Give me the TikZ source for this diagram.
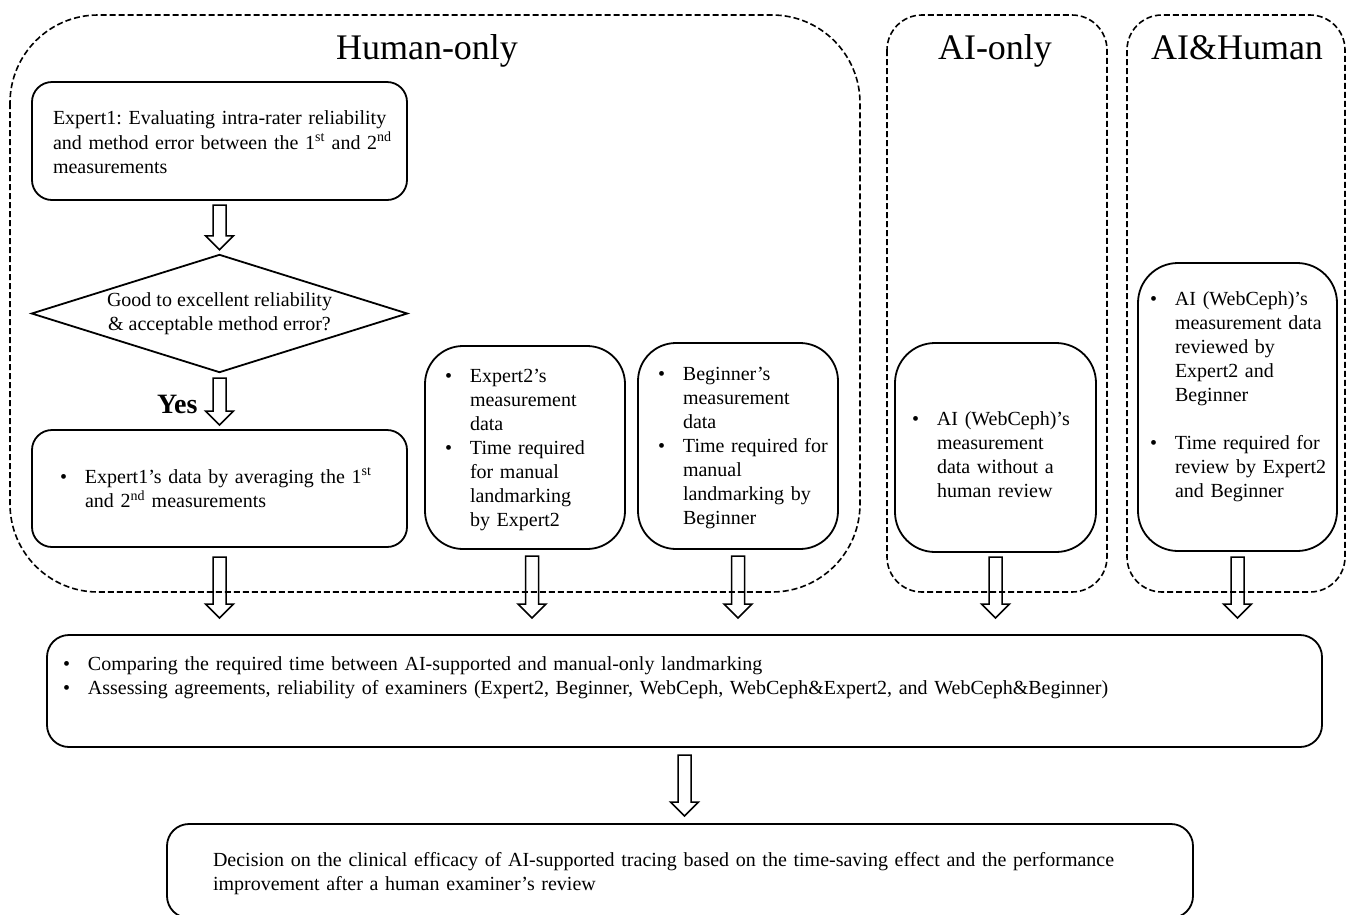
\documentclass[tikz,border=0pt]{standalone}
\usepackage{fontspec}
\setmainfont{Liberation Serif}
\usetikzlibrary{calc}
\frenchspacing

\newcommand{\bodyfont}{\fontsize{20}{24}\selectfont}
\newcommand{\rows}[1]{\noindent\raisebox{-3pt}[\height][\depth]{\begin{tabular}{@{}l@{}}#1\end{tabular}}}
\newcommand{\brows}[1]{\noindent\raisebox{-2pt}[\height][\depth]{\begin{tabular}{@{}p{25pt}@{}l@{}}#1\end{tabular}}}

\begin{document}
\begin{tikzpicture}[x=1pt,y=-1pt,
    box/.style={draw,line width=1.8pt,rounded corners=#1,anchor=north west,
      inner ysep=0pt,outer sep=0pt,align=left,font=\bodyfont},
    box/.default=20pt,
    grp/.style={draw,line width=1.6pt,dash pattern=on 6pt off 3pt},
    ttl/.style={font=\fontsize{36}{40}\selectfont,anchor=base},
    blockarr/.style={line width=1.5pt,to path={let \p1=(\tikztostart),\p2=(\tikztotarget) in
      (\x1-6.5pt,\y1) -- (\x1-6.5pt,\y2+14pt) -- (\x1-14pt,\y2+14pt) -- (\x1,\y2)
      -- (\x1+14pt,\y2+14pt) -- (\x1+6.5pt,\y2+14pt) -- (\x1+6.5pt,\y1) -- cycle}}]
  \useasboundingbox (0,0) rectangle (1350,914);

  % groups
  \draw[grp,rounded corners=88pt] (10,15) rectangle (860,592);
  \draw[grp,rounded corners=35pt] (887,15) rectangle (1107,592);
  \draw[grp,rounded corners=35pt] (1127,15) rectangle (1345,592);
  \node[ttl] (tH) at (427,59) {Human-only};
  \node[ttl] (tA) at (995,59) {AI-only};
  \node[ttl] (tAH) at (1237,59) {AI\&Human};

  % human-only column
  \node[box,minimum width=375pt,minimum height=118pt,inner xsep=21pt,text width=333pt] (exp1) at (32,82)
    {\rows{Expert1: Evaluating intra-rater reliability\\
      and method error between the 1\textsuperscript{st} and 2\textsuperscript{nd}\\
      measurements}};
  \node[font=\bodyfont,align=center,minimum width=375pt,minimum height=117pt,inner sep=0pt] (dia) at (219.5,313.5)
    {Good to excellent reliability\\\& acceptable method error?};
  \draw[line width=1.8pt] (dia.west) -- (dia.north) -- (dia.east) -- (dia.south) -- cycle;
  \node[font=\fontsize{28}{30}\selectfont\bfseries,anchor=base east] (yes) at (201,413) {Yes};
  \node[box,minimum width=375pt,minimum height=117pt,inner xsep=28pt,text width=319pt] (avg) at (32,430)
    {\brows{\textbullet & Expert1's data by averaging the 1\textsuperscript{st}\\
      & and 2\textsuperscript{nd} measurements}};
  \node[box=38pt,minimum width=200pt,minimum height=203pt,inner xsep=20pt,text width=160pt] (e2) at (425,346)
    {\brows{\textbullet & Expert2's\\ & measurement\\ & data\\
      \textbullet & Time required\\ & for manual\\ & landmarking\\ & by Expert2}};
  \node[box=38pt,minimum width=200pt,minimum height=206pt,inner xsep=20pt,text width=160pt] (bg) at (638,343)
    {\brows{\textbullet & Beginner's\\ & measurement\\ & data\\
      \textbullet & Time required for\\ & manual\\ & landmarking by\\ & Beginner}};

  % AI columns
  \node[box=40pt,minimum width=201pt,minimum height=209pt,inner xsep=17pt,text width=167pt] (ai) at (895,343)
    {\brows{\rule{0pt}{31.8pt}\textbullet & AI (WebCeph)'s\\ & measurement\\
      & data without a\\ & human review}};
  \node[box=40pt,minimum width=199pt,minimum height=288pt,inner xsep=12pt,text width=175pt] (aih) at (1138,263)
    {\brows{\textbullet & AI (WebCeph)'s\\ & measurement data\\ & reviewed by\\
      & Expert2 and\\ & Beginner\\ & \\
      \textbullet & Time required for\\ & review by Expert2\\ & and Beginner\\[25pt]}};

  % results
  \node[box=22pt,minimum width=1275pt,minimum height=112pt,inner xsep=16pt,text width=1243pt] (cmp) at (47,635)
    {\brows{\textbullet & Comparing the required time between AI-supported and manual-only landmarking\\
      \textbullet & Assessing agreements, reliability of examiners (Expert2, Beginner, WebCeph, WebCeph\&Expert2, and WebCeph\&Beginner)\\[31pt]}};
  \node[box=22pt,minimum width=1026pt,minimum height=94pt,inner xsep=46pt,text width=934pt] (dec) at (167,824)
    {\rows{Decision on the clinical efficacy of AI-supported tracing based on the time-saving effect and the performance\\
      improvement after a human examiner's review}};

  % arrows
  \draw[blockarr] ($(exp1.south)+(0,5)$) to ($(dia.north)+(0,-5)$);
  \draw[blockarr] ($(dia.south)+(0,6)$) to ($(avg.north)+(0,-5)$);
  \draw[blockarr] ($(avg.south)+(0,10)$) to ($(avg.south |- cmp.north)+(0,-17)$);
  \draw[blockarr] ($(e2.south)+(7,7)$) to ($(e2.south |- cmp.north)+(7,-17)$);
  \draw[blockarr] ($(bg.south)+(0,7)$) to ($(bg.south |- cmp.north)+(0,-17)$);
  \draw[blockarr] ($(ai.south)+(0,5)$) to ($(ai.south |- cmp.north)+(0,-17)$);
  \draw[blockarr] ($(aih.south)+(0,6)$) to ($(aih.south |- cmp.north)+(0,-17)$);
  \draw[blockarr] ($(cmp.south)+(0,8)$) to ($(cmp.south |- dec.north)+(0,-8)$);
\end{tikzpicture}
\end{document}
